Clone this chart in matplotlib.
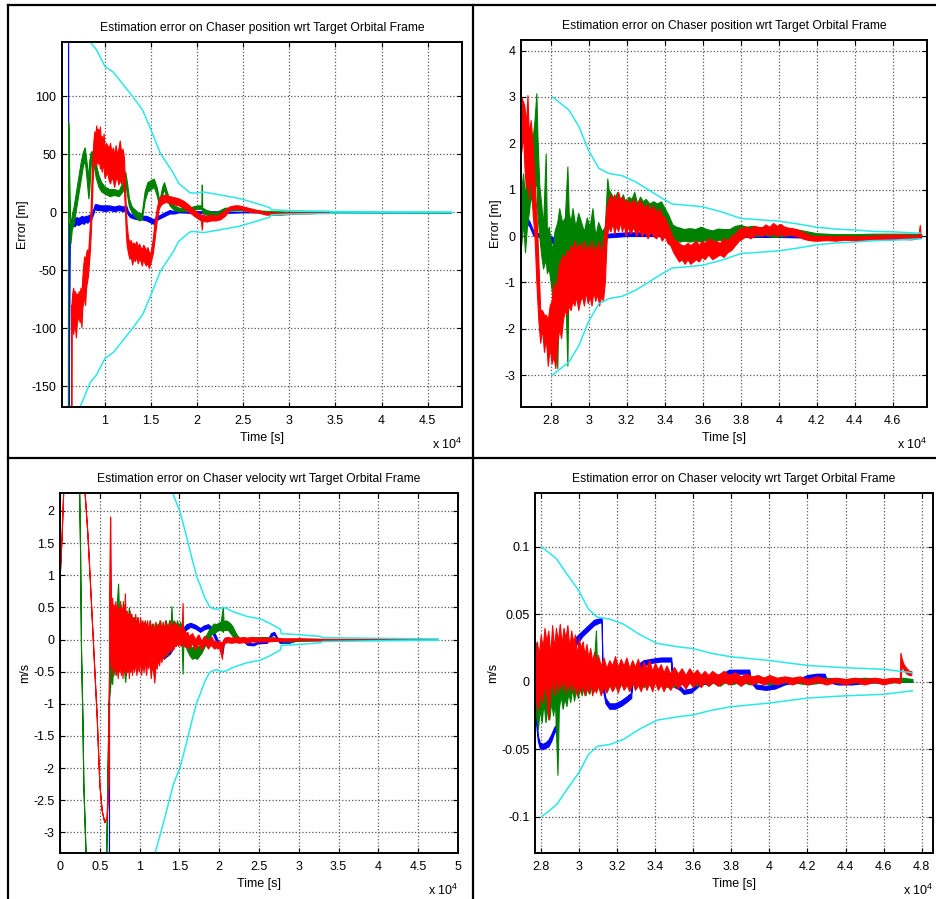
import numpy as np
import matplotlib
matplotlib.use("Agg")
import matplotlib.pyplot as plt
from matplotlib.lines import Line2D
from matplotlib.ticker import FixedLocator, FuncFormatter

plt.rcParams['font.family'] = ['Liberation Sans', 'DejaVu Sans']
plt.rcParams['mathtext.default'] = 'regular'

# ---- data: (time [s], low edge, high edge) of each trace ----
# top-left : position error, whole run
A_blue = [(5990, 300, 300), (6010, -300, -300), (6150, -10, -10), (6300, -13, -6), (6500, -11, -5),
          (6700, -12, -6), (6900, -10, -4), (7100, -11, -5), (7300, -10, -4), (7500, -9, -3),
          (7700, -10, -4), (7900, -8, -3), (8100, -9, -3), (8300, -7, -2), (8500, -6, -1),
          (8700, -2, 2), (8900, 3, 7), (9100, 2, 7), (9500, 2, 6), (10000, 1, 6), (10500, 2, 6),
          (11000, 1, 5), (11500, 2, 6), (12000, 1, 5), (12300, 1, 6), (12500, -2, 1), (12700, -4, -1),
          (13000, -5, -2), (13500, -6, -2), (14000, -6, -3), (14500, -7, -3), (15000, -9, -5),
          (15300, -10, -6), (15500, -7, -4), (16000, -5, -2), (16500, -3, 0), (17000, -1, 2),
          (17500, -1, 1), (18000, 0, 1), (21000, -1, 1), (25000, 0, 0.5), (30000, 0, 0.3), (47500, 0, 0)]
A_green = [(5980, -300, -300), (6000, 78, 78), (6080, 40, 60), (6150, -5, 10), (6250, -27, -15),
           (6400, -15, -2), (6600, -10, 5), (6800, 0, 15), (7000, 10, 25), (7200, 20, 35), (7400, 30, 45),
           (7600, 40, 52), (7800, 45, 56), (7900, 38, 50), (8050, 25, 40), (8200, 12, 30), (8300, 20, 45),
           (8450, 40, 52), (8600, 45, 53), (8800, 40, 50), (9000, 30, 42), (9300, 22, 32), (9600, 18, 26),
           (10000, 16, 22), (10500, 14, 20), (11000, 15, 20), (11500, 14, 19), (11900, 18, 26),
           (12200, 25, 35), (12400, 15, 25), (12600, 5, 12), (12900, 0, 5), (13300, -4, 2), (13700, -7, -1),
           (14000, -6, 0), (14300, 10, 18), (14600, 18, 26), (15000, 20, 28), (15300, 22, 29),
           (15600, 15, 22), (15900, 5, 10), (16200, 15, 22), (16400, 20, 26), (16700, 12, 18),
           (17000, 6, 11), (17500, 2, 6), (18000, 1, 4), (19000, 1, 4), (20000, 3, 6), (20450, 3, 6),
           (20500, 3, 24), (20550, 0, 4), (21000, -2, 2), (22000, -3, 0), (23000, 1, 4), (24000, 2, 4),
           (25000, 2, 3), (26000, 0.5, 2), (27000, 0, 1.5), (28000, -0.5, 1), (30000, 0, 0.5), (47500, 0, 0)]
A_red = [(6330, -300, -300), (6360, -80, -80), (6450, -95, -70), (6550, -105, -65), (6650, -98, -70),
         (6750, -100, -68), (6850, -108, -72), (6950, -95, -70), (7050, -92, -72), (7150, -90, -68),
         (7250, -95, -70), (7350, -90, -65), (7450, -99, -72), (7550, -82, -55), (7650, -78, -45),
         (7750, -70, -38), (7850, -80, -42), (7950, -65, -35), (8050, -60, -32), (8150, -55, -38),
         (8250, -45, -25), (8350, -35, -12), (8450, -20, 5), (8550, 0, 30), (8650, 25, 48), (8750, 40, 62),
         (8850, 42, 70), (8950, 45, 65), (9050, 40, 75), (9150, 48, 70), (9250, 42, 72), (9350, 45, 68),
         (9450, 38, 74), (9550, 40, 62), (9650, 35, 66), (9750, 42, 60), (9850, 38, 68), (9950, 30, 55),
         (10100, 32, 60), (10250, 35, 58), (10400, 28, 55), (10550, 25, 60), (10700, 30, 52),
         (10850, 28, 56), (11000, 22, 50), (11150, 28, 58), (11300, 30, 50), (11450, 24, 55),
         (11600, 28, 62), (11750, 25, 52), (11900, 30, 55), (12050, 20, 48), (12150, 5, 30),
         (12250, -15, 5), (12350, -28, -10), (12500, -35, -22), (12650, -40, -25), (12800, -38, -24),
         (12950, -45, -28), (13100, -40, -26), (13250, -42, -28), (13400, -38, -25), (13550, -44, -30),
         (13700, -40, -27), (13850, -42, -30), (14000, -46, -32), (14150, -40, -28), (14300, -44, -30),
         (14450, -46, -33), (14600, -43, -30), (14750, -48, -34), (14900, -45, -36), (15050, -40, -30),
         (15200, -35, -22), (15350, -25, -10), (15500, -15, -2), (15650, -5, 5), (15800, 2, 10),
         (16000, 6, 14), (16300, 8, 15), (16600, 9, 15), (17000, 8, 14), (17500, 7, 13), (18000, 6, 12),
         (18500, 4, 10), (19000, 1, 7), (19500, -2, 3), (20000, -5, 0), (20400, -7, -2), (20500, -15, -3),
         (20600, -7, -2), (21000, -8, -3), (21500, -7, -2), (22000, -7, -3), (22500, -6, -1),
         (23000, -3, 2), (23500, 2, 5), (24000, 3, 6), (24500, 3, 6), (25000, 2, 5), (25500, 1, 4),
         (26000, 0, 3), (26500, 0, 2), (27000, -1, 1), (27500, -2, 0), (28000, -2, 0), (29000, -2, -0.5),
         (30000, -1.5, 0), (31000, -1, 0), (32000, -1, 0), (33000, -0.5, 0), (34300, -0.3, 0)]
A_bound_t = [6000, 7000, 7300, 8400, 9100, 10000, 10900, 12000, 13000, 14100, 15000, 16000, 17400, 18000,
             19200, 19600, 20700, 22500, 24600, 26500, 27900, 28000, 30000, 32000, 34300, 34500, 38000,
             41000, 47600]
A_bound = [320, 190, 168, 147, 140, 126, 121, 110, 100, 88, 71, 51, 34, 25, 17, 16.5, 17.5, 15, 12, 7.5,
           4, 2.2, 1.5, 1.2, 1.0, 0.7, 0.5, 0.4, 0.3]

# top-right : position error, zoom on the end of the run
B_blue = [(26440, 0.3, 0.45), (26700, 0.3, 0.45), (26900, 0.2, 0.3), (27100, 0.0, 0.1), (27400, -0.02, 0.05),
          (27800, -0.05, 0.03), (28100, -0.15, -0.02), (28300, -0.3, -0.1), (28500, -0.25, -0.12),
          (28800, -0.25, -0.12), (29100, -0.22, -0.1), (29500, -0.22, -0.12), (29900, -0.25, -0.1),
          (30200, -0.3, -0.12), (30500, -0.2, -0.08), (30800, -0.05, 0.02), (31000, -0.03, 0.05),
          (32000, 0.0, 0.08), (33000, 0.0, 0.08), (34000, 0.0, 0.06), (35000, -0.02, 0.04),
          (40000, -0.02, 0.04), (42000, -0.04, 0.02), (44000, -0.04, 0.01), (46000, -0.06, 0.0),
          (47000, -0.07, -0.02), (47500, -0.03, 0.0)]
B_green = [(26450, -0.2, 1.0), (26550, 0.3, 1.35), (26650, -0.35, 0.8), (26750, 0.2, 1.5), (26850, 0.5, 2.0),
           (26950, 0.9, 1.6), (27050, 0.6, 2.1), (27150, 1.0, 2.5), (27250, 1.2, 3.08), (27300, 0.5, 2.2),
           (27400, 0.0, 1.1), (27500, -0.4, 0.7), (27600, -0.7, 0.2), (27740, -0.5, 1.78), (27800, -0.8, 0.1),
           (27900, -0.7, 0.2), (28000, -1.0, -0.1), (28100, -1.3, -0.3), (28200, -1.5, 0.1),
           (28350, -2.85, 0.3), (28450, -0.8, 0.6), (28600, -1.1, 0.3), (28750, -0.9, 0.4),
           (28880, -2.8, 1.5), (28950, -0.6, 0.5), (29050, -1.0, 0.3), (29150, -0.5, 0.6), (29300, -0.9, 0.2),
           (29450, -0.4, 0.5), (29600, -0.7, 0.3), (29750, -0.9, 0.1), (29900, -0.5, 0.4), (30050, -0.8, 0.2),
           (30200, -0.6, 0.6), (30350, -0.9, 0.0), (30500, -0.6, 0.3), (30700, -0.9, 0.1), (30850, -0.5, 0.2),
           (30980, 0.2, 1.24), (31050, 0.3, 1.0), (31200, 0.2, 0.9), (31350, 0.35, 0.8), (31500, 0.15, 0.95),
           (31650, 0.3, 0.75), (31800, 0.2, 0.9), (31950, 0.35, 0.7), (32100, 0.2, 0.85), (32250, 0.3, 0.8),
           (32400, 0.4, 0.95), (32550, 0.25, 0.7), (32700, 0.35, 0.85), (32850, 0.3, 0.75), (33000, 0.4, 0.8),
           (33200, 0.3, 0.7), (33400, 0.35, 0.75), (33600, 0.3, 0.7), (33800, 0.4, 0.75), (34000, 0.25, 0.6),
           (34200, 0.1, 0.45), (34400, -0.05, 0.25), (34600, -0.1, 0.2), (34800, -0.12, 0.18),
           (35000, -0.1, 0.15), (35300, -0.12, 0.17), (35600, -0.1, 0.15), (35900, -0.12, 0.2),
           (36200, -0.08, 0.15), (36500, -0.1, 0.12), (36800, -0.08, 0.16), (37100, -0.1, 0.15),
           (37400, -0.05, 0.15), (37700, -0.02, 0.22), (38000, 0.02, 0.24), (38300, 0.0, 0.2),
           (38600, 0.02, 0.22), (38900, 0.0, 0.18), (39200, 0.03, 0.2), (39500, 0.0, 0.17),
           (39800, -0.02, 0.15), (40200, 0.0, 0.16), (40600, 0.02, 0.15), (41000, 0.02, 0.14),
           (41500, 0.0, 0.1), (42000, -0.02, 0.06), (43000, -0.03, 0.04), (44000, -0.02, 0.04),
           (45000, -0.01, 0.05), (46000, 0.0, 0.05), (47000, 0.0, 0.05), (47500, 0.0, 0.04)]
B_red = [(26450, 1.8, 3.0), (26550, 2.2, 2.9), (26620, 1.5, 2.8), (26700, 1.0, 2.4), (26780, 1.3, 3.04),
         (26850, 0.8, 2.2), (26950, 1.5, 2.5), (27050, 0.5, 2.0), (27150, 0.0, 1.2), (27250, -1.0, 0.5),
         (27350, -1.8, -0.5), (27450, -2.3, -1.6), (27550, -2.0, -1.6), (27650, -2.5, -1.7),
         (27750, -2.2, -1.7), (27850, -2.8, -1.8), (27950, -2.4, -1.5), (28050, -2.75, -1.4),
         (28150, -2.6, -1.0), (28250, -2.85, -1.2), (28350, -2.3, -0.9), (28450, -2.0, -0.6),
         (28550, -2.2, -0.5), (28650, -1.8, -0.4), (28750, -1.6, -0.5), (28850, -1.7, -0.3),
         (28950, -1.5, -0.4), (29050, -1.6, -0.2), (29150, -1.4, -0.3), (29250, -1.5, -0.1),
         (29350, -1.3, -0.3), (29450, -1.6, -0.2), (29550, -1.4, -0.15), (29650, -1.3, -0.4),
         (29750, -1.5, -0.1), (29850, -1.2, -0.3), (29950, -1.45, -0.2), (30050, -1.3, -0.35),
         (30150, -1.5, -0.1), (30250, -1.2, -0.4), (30350, -1.4, -0.2), (30450, -1.25, -0.3),
         (30550, -1.5, -0.1), (30650, -1.3, -0.4), (30750, -1.4, -0.2), (30850, -1.0, 0.2),
         (30950, 0.0, 0.63), (31050, 0.2, 0.8), (31150, 0.1, 0.9), (31250, 0.3, 0.75), (31350, 0.05, 0.9),
         (31450, 0.25, 0.7), (31550, 0.1, 0.95), (31650, 0.3, 0.8), (31750, 0.1, 0.85), (31850, 0.25, 0.7),
         (31950, 0.0, 0.8), (32050, 0.2, 0.75), (32200, 0.05, 0.7), (32350, 0.2, 0.8), (32500, 0.0, 0.65),
         (32650, 0.15, 0.78), (32800, 0.0, 0.7), (32950, 0.1, 0.6), (33100, -0.05, 0.7), (33250, 0.1, 0.55),
         (33400, 0.0, 0.65), (33550, -0.05, 0.5), (33700, 0.05, 0.6), (33850, -0.1, 0.45), (34000, 0.0, 0.4),
         (34150, -0.15, 0.25), (34300, -0.2, 0.1), (34450, -0.35, -0.05), (34600, -0.45, -0.1),
         (34750, -0.55, -0.15), (34900, -0.5, -0.2), (35050, -0.6, -0.2), (35200, -0.5, -0.15),
         (35350, -0.6, -0.2), (35500, -0.55, -0.15), (35650, -0.5, -0.1), (35800, -0.55, -0.2),
         (35950, -0.45, -0.1), (36100, -0.5, -0.15), (36300, -0.4, -0.05), (36500, -0.5, -0.1),
         (36700, -0.45, -0.1), (36900, -0.4, -0.15), (37100, -0.45, -0.05), (37300, -0.35, -0.1),
         (37500, -0.3, 0.0), (37700, -0.2, 0.05), (37900, -0.1, 0.15), (38100, -0.05, 0.18),
         (38300, 0.0, 0.2), (38500, -0.05, 0.15), (38700, 0.0, 0.22), (38900, 0.05, 0.2), (39100, 0.0, 0.18),
         (39300, 0.05, 0.25), (39500, 0.02, 0.2), (39700, 0.05, 0.28), (39900, 0.0, 0.22),
         (40100, 0.05, 0.26), (40300, 0.0, 0.2), (40500, 0.04, 0.18), (40700, 0.02, 0.17),
         (40900, 0.0, 0.15), (41100, -0.02, 0.12), (41300, -0.06, 0.08), (41500, -0.08, 0.04),
         (41800, -0.1, 0.0), (42100, -0.1, 0.0), (42500, -0.09, 0.0), (43000, -0.1, -0.01),
         (43500, -0.08, 0.0), (44000, -0.1, -0.01), (44500, -0.08, 0.0), (45000, -0.07, 0.01),
         (45500, -0.06, 0.02), (46000, -0.05, 0.03), (46500, -0.04, 0.03), (47000, -0.05, 0.02),
         (47350, -0.04, 0.02), (47420, -0.02, 0.24), (47460, -0.02, 0.05)]
B_bound_t = [28100, 28960, 29490, 30000, 30540, 31070, 31770, 32470, 33180, 33880, 34400, 35000, 36000,
             37000, 38000, 39000, 40000, 41000, 42000, 43000, 44000, 45000, 46000, 47440]
B_bound = [3.0, 2.72, 2.36, 1.84, 1.46, 1.35, 1.30, 1.17, 0.99, 0.81, 0.69, 0.67, 0.63, 0.52, 0.38, 0.35,
           0.32, 0.26, 0.19, 0.15, 0.13, 0.10, 0.09, 0.06]

# bottom-left : velocity error, whole run
C_blue = [(6150, -4, -4), (6160, -0.89, -0.89), (6300, -0.3, 0.3), (7000, -0.1, 0.2), (8000, 0.0, 0.2),
          (9000, 0.05, 0.25), (9700, 0.1, 0.25), (10500, -0.05, 0.1), (11500, -0.2, -0.05),
          (12600, -0.3, -0.2), (13200, -0.28, -0.18), (13800, -0.22, -0.12), (14200, -0.14, -0.04),
          (14700, -0.03, 0.05), (15300, 0.08, 0.16), (15900, 0.16, 0.24), (16400, 0.2, 0.26),
          (17000, 0.17, 0.23), (17600, 0.12, 0.18), (18100, 0.16, 0.22), (18600, 0.18, 0.24),
          (19000, 0.14, 0.2), (19500, 0.0, 0.08), (20000, -0.12, -0.06), (20400, -0.22, -0.14),
          (20600, -0.05, 0.02), (21000, -0.02, 0.02), (23000, -0.02, 0.02), (23500, -0.08, -0.05),
          (24300, -0.09, -0.06), (24800, -0.06, -0.03), (26000, -0.05, -0.02), (26500, 0.05, 0.1),
          (26900, 0.08, 0.12), (27200, 0.02, 0.05), (27600, -0.05, -0.02), (28800, -0.05, -0.02),
          (29500, -0.02, 0.01), (31000, -0.01, 0.01), (47300, 0, 0)]
C_green = [(2200, 4, 4), (2520, 1.39, 1.39), (2640, -0.17, -0.17), (2810, -1.2, -1.2), (2930, -2.24, -2.24),
           (3230, -3.4, -3.4), (4000, -6, -6), (5500, -5, -5), (5800, -3.4, -3.4), (5950, -2.2, -2.2),
           (6100, -1.0, -1.0), (6250, -0.8, 0.2), (6400, -0.6, 0.3), (6550, -0.69, 0.45), (6700, -0.4, 0.3),
           (6850, -0.55, 0.5), (7000, -0.3, 0.35), (7150, -0.5, 0.6), (7300, -0.35, 0.87), (7450, -0.45, 0.3),
           (7600, -0.3, 0.55), (7750, -0.5, 0.35), (7900, -0.35, 0.6), (8050, -0.5, 0.4), (8200, -0.66, 0.3),
           (8350, -0.4, 0.45), (8500, -0.5, 0.3), (8650, -0.3, 0.5), (8800, -0.45, 0.25), (8950, -0.3, 0.4),
           (9100, -0.45, 0.2), (9300, -0.3, 0.35), (9500, -0.4, 0.2), (9700, -0.25, 0.35), (9900, -0.4, 0.15),
           (10100, -0.3, 0.3), (10300, -0.45, 0.15), (10500, -0.3, 0.28), (10700, -0.4, 0.15),
           (10900, -0.3, 0.25), (11100, -0.4, 0.1), (11300, -0.25, 0.3), (11500, -0.35, 0.1),
           (11700, -0.25, 0.25), (11900, -0.4, 0.1), (12100, -0.25, 0.25), (12300, -0.35, 0.15),
           (12500, -0.2, 0.3), (12700, -0.3, 0.12), (12900, -0.2, 0.28), (13100, -0.3, 0.15),
           (13300, -0.15, 0.3), (13500, -0.25, 0.12), (13700, -0.1, 0.3), (13900, -0.15, 0.2),
           (14000, -0.1, 0.52), (14100, -0.1, 0.25), (14300, -0.05, 0.3), (14500, -0.1, 0.2),
           (14700, 0.0, 0.3), (14900, -0.05, 0.2), (15100, 0.0, 0.28), (15300, -0.1, 0.15),
           (15400, -0.53, 0.1), (15500, -0.05, 0.2), (15700, -0.05, 0.1), (15900, -0.15, 0.0),
           (16100, -0.2, -0.05), (16300, -0.25, -0.1), (16600, -0.3, -0.12), (16900, -0.28, -0.12),
           (17200, -0.3, -0.1), (17500, -0.25, -0.1), (17800, -0.2, -0.05), (18100, -0.12, 0.02),
           (18400, -0.05, 0.08), (18700, 0.02, 0.15), (19000, 0.08, 0.2), (19300, 0.1, 0.25),
           (19600, 0.12, 0.24), (19900, 0.15, 0.26), (20200, 0.15, 0.28), (20450, 0.12, 0.51),
           (20550, 0.15, 0.28), (20800, 0.15, 0.3), (21100, 0.15, 0.28), (21400, 0.1, 0.25),
           (21700, 0.05, 0.2), (22000, 0.0, 0.12), (22300, -0.02, 0.06), (22600, -0.03, 0.02),
           (23000, -0.03, 0.0), (23500, -0.03, 0.0), (24000, -0.02, 0.02), (25000, 0.0, 0.04),
           (26000, 0.0, 0.04), (27000, 0.0, 0.03), (28000, -0.03, 0.0), (29000, -0.03, 0.0),
           (30000, -0.02, 0.01), (33000, -0.01, 0.01), (40000, 0, 0.01), (47300, 0, 0.005)]
C_red = [(0, 1.08, 1.08), (200, 1.6, 1.6), (430, 2.4, 2.4), (1500, 6, 6), (2700, 3.5, 3.5), (3100, 2.27, 2.27),
         (3440, 1.65, 1.65), (3770, 0.87, 0.87), (4190, -0.17, -0.17), (4610, -1.2, -1.2),
         (4940, -2.24, -2.24), (5240, -2.66, -2.66), (5570, -2.84, -2.84), (5870, -2.76, -2.76),
         (6070, -2.24, -2.24), (6290, 1.91, 1.91), (6350, -0.3, 0.9), (6450, -0.45, 0.5), (6550, -0.2, 0.65),
         (6650, -0.55, 0.4), (6750, -0.3, 0.55), (6850, -0.5, 0.35), (6950, -0.25, 0.6), (7050, -0.55, 0.3),
         (7150, -0.35, 0.55), (7250, -0.6, 0.4), (7350, -0.4, 0.5), (7450, -0.5, 0.3), (7550, -0.3, 0.6),
         (7650, -0.55, 0.35), (7750, -0.35, 0.5), (7850, -0.6, 0.25), (7950, -0.3, 0.55), (8050, -0.5, 0.3),
         (8150, -0.4, 0.72), (8250, -0.55, 0.3), (8350, -0.35, 0.45), (8450, -0.5, 0.25), (8550, -0.3, 0.4),
         (8650, -0.6, 0.3), (8750, -0.4, 0.45), (8850, -0.5, 0.2), (8950, -0.3, 0.4), (9050, -0.55, 0.25),
         (9150, -0.35, 0.35), (9300, -0.5, 0.2), (9450, -0.35, 0.4), (9600, -0.55, 0.2), (9750, -0.4, 0.35),
         (9900, -0.5, 0.15), (10050, -0.3, 0.35), (10200, -0.55, 0.2), (10350, -0.35, 0.3),
         (10500, -0.5, 0.15), (10650, -0.3, 0.3), (10800, -0.55, 0.2), (10950, -0.35, 0.3),
         (11100, -0.45, 0.12), (11250, -0.3, 0.3), (11400, -0.6, 0.15), (11550, -0.4, 0.25),
         (11700, -0.5, 0.1), (11850, -0.67, 0.2), (12000, -0.4, 0.28), (12150, -0.45, 0.1),
         (12300, -0.3, 0.25), (12450, -0.4, 0.15), (12600, -0.25, 0.3), (12750, -0.35, 0.1),
         (12900, -0.2, 0.25), (13050, -0.3, 0.15), (13200, -0.2, 0.3), (13350, -0.25, 0.1),
         (13500, -0.15, 0.25), (13650, -0.2, 0.15), (13800, -0.1, 0.3), (13950, -0.2, 0.2),
         (14100, -0.1, 0.25), (14250, -0.15, 0.15), (14400, -0.05, 0.28), (14550, -0.1, 0.2),
         (14700, -0.05, 0.25), (14850, -0.1, 0.15), (15000, -0.05, 0.22), (15150, -0.1, 0.15),
         (15300, -0.05, 0.2), (15400, -0.05, 0.57), (15450, -0.08, 0.18), (15600, -0.1, 0.15),
         (15800, -0.12, 0.1), (16000, -0.08, 0.12), (16200, -0.14, 0.05), (16400, -0.1, 0.08),
         (16600, -0.05, 0.1), (16800, -0.12, 0.05), (17000, -0.15, 0.0), (17200, -0.1, 0.05),
         (17400, -0.05, 0.08), (17600, -0.12, 0.02), (17800, -0.15, -0.02), (18000, -0.1, 0.04),
         (18200, -0.06, 0.06), (18400, -0.1, 0.0), (18600, -0.14, -0.02), (18800, -0.1, 0.03),
         (19000, -0.08, 0.05), (19200, -0.12, 0.0), (19400, -0.14, -0.03), (19600, -0.12, -0.02),
         (19800, -0.14, -0.04), (20000, -0.12, -0.03), (20350, -0.3, -0.04), (20450, -0.1, -0.02),
         (20700, -0.05, 0.03), (21000, -0.04, 0.04), (21500, -0.05, 0.03), (22000, -0.04, 0.04),
         (22500, -0.05, 0.03), (23000, -0.04, 0.04), (23500, -0.05, 0.03), (24000, -0.03, 0.04),
         (25000, -0.03, 0.03), (26000, -0.03, 0.03), (27000, -0.02, 0.03), (28000, -0.02, 0.02),
         (30000, -0.01, 0.02), (33000, -0.01, 0.01), (40000, 0, 0.01), (47300, 0, 0.01)]
C_bound_t = [11000, 11950, 13000, 14250, 15100, 15900, 16600, 17200, 17600, 18200, 18800, 19300, 19700,
             20500, 21000, 21800, 23500, 25200, 26400, 27700, 27800, 29500, 32700, 33000, 39000, 47500]
C_bound = [4.5, 3.32, 2.85, 2.25, 1.98, 1.6, 1.25, 0.97, 0.85, 0.65, 0.51, 0.48, 0.47, 0.5, 0.48, 0.43,
           0.36, 0.32, 0.25, 0.16, 0.09, 0.08, 0.05, 0.03, 0.02, 0.01]

# bottom-right : velocity error, zoom on the end of the run
D_blue = [(27700, -0.005, 0.0), (27750, -0.03, -0.02), (27850, -0.044, -0.04), (27950, -0.049, -0.045),
          (28100, -0.05, -0.046), (28250, -0.049, -0.045), (28400, -0.048, -0.043), (28550, -0.044, -0.039),
          (28700, -0.038, -0.034), (28800, -0.036, -0.032), (28840, -0.005, 0.005), (29000, 0.0, 0.01),
          (29300, 0.015, 0.025), (29600, 0.025, 0.03), (29900, 0.028, 0.034), (30200, 0.034, 0.038),
          (30500, 0.038, 0.042), (30800, 0.042, 0.046), (31100, 0.044, 0.047), (31200, 0.044, 0.047),
          (31250, -0.005, 0.0), (31400, -0.016, -0.012), (31600, -0.02, -0.016), (31900, -0.02, -0.016),
          (32200, -0.018, -0.014), (32500, -0.015, -0.011), (32750, -0.012, -0.008), (32800, 0.005, 0.01),
          (33000, 0.008, 0.012), (33400, 0.012, 0.016), (33800, 0.014, 0.017), (34300, 0.015, 0.018),
          (34850, 0.015, 0.018), (34900, -0.003, 0.0), (35300, -0.006, -0.003), (35500, -0.009, -0.006),
          (35900, -0.008, -0.005), (36300, -0.003, 0.0), (36900, 0.0, 0.004), (37500, 0.002, 0.006),
          (37900, 0.006, 0.009), (38500, 0.006, 0.009), (38950, 0.006, 0.009), (39000, 0.0, 0.003),
          (39300, -0.005, -0.002), (39800, -0.006, -0.003), (40300, -0.005, -0.002), (40800, -0.002, 0.001),
          (41500, 0.0, 0.002), (42000, 0.002, 0.005), (42500, 0.003, 0.006), (42900, 0.003, 0.006),
          (43000, 0.0, 0.002), (43600, -0.002, 0.0), (44300, -0.002, 0.0), (45000, -0.001, 0.001),
          (46000, 0.0, 0.002), (47500, 0.0, 0.002)]
D_green = [(27700, -0.03, 0.01), (27750, -0.02, 0.029), (27850, -0.035, 0.005), (27950, -0.02, 0.01),
           (28050, -0.03, 0.02), (28150, -0.015, 0.005), (28250, -0.03, 0.015), (28350, -0.02, 0.008),
           (28450, -0.028, 0.015), (28550, -0.015, 0.01), (28650, -0.025, 0.018), (28750, -0.015, 0.01),
           (28880, -0.069, 0.015), (28950, -0.02, 0.012), (29050, -0.01, 0.018), (29150, -0.02, 0.012),
           (29250, -0.012, 0.015), (29350, -0.018, 0.031), (29450, -0.008, 0.018), (29550, -0.015, 0.01),
           (29650, -0.005, 0.016), (29750, -0.014, 0.01), (29850, -0.006, 0.017), (29950, -0.012, 0.008),
           (30050, -0.004, 0.014), (30150, -0.01, 0.01), (30250, -0.004, 0.015), (30350, -0.01, 0.008),
           (30450, -0.003, 0.013), (30550, -0.009, 0.008), (30650, -0.003, 0.012), (30750, -0.008, 0.006),
           (30900, -0.002, 0.038), (30950, -0.006, 0.012), (31050, -0.002, 0.01), (31200, -0.007, 0.007),
           (31350, -0.002, 0.012), (31500, -0.006, 0.006), (31650, -0.001, 0.011), (31800, -0.006, 0.006),
           (31950, -0.001, 0.01), (32100, -0.005, 0.005), (32250, -0.001, 0.01), (32400, -0.005, 0.004),
           (32550, 0.0, 0.009), (32700, -0.005, 0.004), (32850, 0.0, 0.009), (33000, -0.005, 0.004),
           (33200, 0.0, 0.008), (33400, -0.004, 0.004), (33600, 0.0, 0.008), (33800, -0.004, 0.003),
           (34000, 0.0, 0.007), (34200, -0.004, 0.003), (34400, 0.0, 0.007), (34600, -0.004, 0.003),
           (34800, 0.0, 0.006), (35000, -0.004, 0.003), (35300, 0.0, 0.006), (35600, -0.003, 0.003),
           (35900, 0.0, 0.006), (36200, -0.003, 0.003), (36500, 0.0, 0.005), (36800, -0.003, 0.002),
           (37100, 0.0, 0.005), (37400, -0.003, 0.002), (37700, 0.0, 0.005), (38000, -0.002, 0.002),
           (38500, 0.0, 0.004), (39000, -0.002, 0.002), (39500, 0.0, 0.004), (40000, -0.002, 0.002),
           (41000, 0.0, 0.003), (42000, -0.002, 0.002), (43000, 0.0, 0.003), (44000, -0.001, 0.002),
           (45000, 0.0, 0.003), (46000, -0.001, 0.002), (47000, 0.0, 0.003), (47500, 0.0, 0.002)]
D_red = [(27700, -0.025, 0.015), (27800, -0.01, 0.03), (27900, -0.02, 0.02), (28000, -0.005, 0.035),
         (28100, -0.015, 0.025), (28200, 0.0, 0.04), (28300, -0.01, 0.03), (28400, -0.028, 0.038),
         (28500, -0.005, 0.02), (28600, 0.0, 0.042), (28700, -0.01, 0.025), (28800, 0.005, 0.04),
         (28900, -0.008, 0.03), (29000, 0.0, 0.043), (29100, -0.005, 0.028), (29200, 0.005, 0.04),
         (29300, -0.008, 0.032), (29400, 0.0, 0.042), (29500, -0.006, 0.025), (29600, 0.002, 0.038),
         (29700, -0.008, 0.03), (29800, 0.0, 0.035), (29900, -0.01, 0.02), (30000, -0.002, 0.032),
         (30100, -0.008, 0.025), (30200, 0.0, 0.03), (30300, -0.01, 0.02), (30400, -0.004, 0.028),
         (30500, -0.008, 0.018), (30600, 0.0, 0.025), (30700, -0.01, 0.015), (30800, -0.004, 0.022),
         (30900, -0.008, 0.014), (31000, -0.002, 0.02), (31150, -0.01, 0.012), (31300, -0.004, 0.018),
         (31450, -0.008, 0.01), (31600, -0.002, 0.016), (31750, -0.007, 0.012), (31900, -0.002, 0.019),
         (32050, -0.008, 0.011), (32200, 0.0, 0.017), (32350, -0.006, 0.012), (32500, -0.002, 0.018),
         (32650, -0.007, 0.01), (32800, 0.0, 0.016), (32950, -0.006, 0.011), (33100, -0.002, 0.017),
         (33250, -0.007, 0.009), (33400, 0.0, 0.015), (33550, -0.006, 0.01), (33700, -0.001, 0.016),
         (33850, -0.007, 0.008), (34000, 0.0, 0.014), (34150, -0.006, 0.009), (34300, -0.002, 0.013),
         (34450, -0.007, 0.007), (34600, -0.002, 0.012), (34800, -0.006, 0.006), (35000, -0.001, 0.011),
         (35200, -0.005, 0.006), (35400, -0.001, 0.01), (35600, -0.005, 0.005), (35800, 0.0, 0.01),
         (36000, -0.004, 0.006), (36200, 0.0, 0.009), (36400, -0.004, 0.005), (36600, 0.0, 0.008),
         (36800, -0.003, 0.005), (37000, 0.0, 0.008), (37300, -0.003, 0.005), (37600, 0.0, 0.008),
         (37900, -0.002, 0.005), (38200, 0.0, 0.007), (38500, -0.003, 0.004), (38800, 0.0, 0.006),
         (39100, -0.002, 0.004), (39400, 0.0, 0.005), (39700, -0.002, 0.003), (40000, 0.0, 0.005),
         (40400, -0.002, 0.003), (40800, 0.0, 0.004), (41200, -0.002, 0.003), (41600, 0.0, 0.004),
         (42000, -0.002, 0.002), (42500, 0.0, 0.004), (43000, -0.002, 0.002), (43500, 0.0, 0.003),
         (44000, -0.002, 0.002), (44500, 0.0, 0.003), (45000, -0.002, 0.002), (45500, 0.0, 0.003),
         (46000, -0.002, 0.002), (46500, 0.0, 0.003), (46850, -0.001, 0.002), (46880, 0.0, 0.0215),
         (46950, 0.012, 0.017), (47050, 0.009, 0.013), (47200, 0.006, 0.01), (47350, 0.005, 0.008),
         (47450, 0.005, 0.008)]
D_bound_t = [28050, 28500, 28840, 29370, 30000, 30500, 30950, 31650, 32350, 33200, 34100, 35160, 36000,
             37000, 38000, 40000, 42000, 44000, 46000, 47500]
D_bound = [0.1, 0.095, 0.091, 0.08, 0.0675, 0.054, 0.048, 0.0464, 0.0427, 0.035, 0.0285, 0.026, 0.0246,
           0.021, 0.0185, 0.0158, 0.0121, 0.0104, 0.0093, 0.0067]

# ---- axes settings ----
titles = ["Estimation error on Chaser position wrt Target Orbital Frame",
          "Estimation error on Chaser position wrt Target Orbital Frame",
          "Estimation error on Chaser velocity wrt Target Orbital Frame",
          "Estimation error on Chaser velocity wrt Target Orbital Frame"]
ylabels = ["Error [m]", "Error [m]", "m/s", "m/s"]
xticks = [np.arange(10000, 45001, 5000), np.arange(28000, 46001, 2000),
          np.arange(0, 50001, 5000), np.arange(28000, 48001, 2000)]
yticks = [[-150, -100, -50, 0, 50, 100], [-3, -2, -1, 0, 1, 2, 3, 4],
          [-3, -2.5, -2, -1.5, -1, -0.5, 0, 0.5, 1, 1.5, 2], [-0.1, -0.05, 0, 0.05, 0.1]]
xlims = [(5340, 48720), (26440, 47800), (0, 50000), (27700, 48590)]
ylims = [(-168, 147), (-3.69, 4.23), (-3.32, 2.28), (-0.127, 0.140)]
rects = [[62, 42, 400, 365], [521, 40, 406, 367], [60, 493, 398, 360], [535, 493, 398, 360]]

panels = [(A_blue, A_green, A_red, A_bound_t, A_bound),
          (B_blue, B_green, B_red, B_bound_t, B_bound),
          (C_blue, C_green, C_red, C_bound_t, C_bound),
          (D_blue, D_green, D_red, D_bound_t, D_bound)]

W, H = 936, 899
fig = plt.figure(figsize=(W / 100, H / 100), dpi=100)
fig.patch.set_facecolor('white')

cols = ['#0000ff', '#008000', '#ff0000']
cyan = '#2ae8e8'

for k in range(4):
    x0, y0, w, h = rects[k]
    ax = fig.add_axes([x0 / W, 1 - (y0 + h) / H, w / W, h / H])
    blue, green, red, bt, bv = panels[k]
    for z, (ser, c) in enumerate(zip([blue, green, red], cols)):
        arr = np.array(ser, dtype=float)
        ax.fill_between(arr[:, 0], arr[:, 1], arr[:, 2], facecolor=c, edgecolor=c,
                        lw=0.8, zorder=2 + z)
    bt = np.array(bt, dtype=float)
    bv = np.array(bv, dtype=float)
    ax.plot(bt, bv, color=cyan, lw=1.1, zorder=6)
    ax.plot(bt, -bv, color=cyan, lw=1.1, zorder=6)

    ax.set_xlim(*xlims[k])
    ax.set_ylim(*ylims[k])
    ax.xaxis.set_major_locator(FixedLocator(xticks[k]))
    ax.yaxis.set_major_locator(FixedLocator(yticks[k]))
    ax.xaxis.set_major_formatter(FuncFormatter(lambda v, p: '%g' % round(v / 1e4, 4)))
    ax.yaxis.set_major_formatter(FuncFormatter(lambda v, p: '%g' % round(v, 6)))
    ax.grid(True, color='0.35', linestyle=':', lw=0.9, zorder=1)
    ax.tick_params(direction='in', top=True, right=True, length=3.5, width=0.8,
                   labelsize=9, pad=4)
    ax.tick_params(axis='x', pad=5.5)
    for s in ax.spines.values():
        s.set_linewidth(1.4)
        s.set_zorder(10)
    ax.set_title(titles[k], fontsize=8.7, pad=8)
    ax.set_xlabel("Time [s]", fontsize=9, labelpad=4)
    ax.set_ylabel(ylabels[k], fontsize=9, labelpad=1.5)
    ax.annotate('x 10$^{4}$', xy=(1, 0), xycoords='axes fraction', xytext=(0, -37),
                textcoords='offset pixels', ha='right', va='center', fontsize=9)

# panel frames
def fline(xs, ys):
    fig.add_artist(Line2D([x / W for x in xs], [1 - y / H for y in ys], color='black', lw=1.6))

fline([8, 936], [5, 5])
fline([8, 8], [5, 899])
fline([473, 473], [5, 899])
fline([8, 936], [458, 458])

fig.savefig('out.png', dpi=100)
